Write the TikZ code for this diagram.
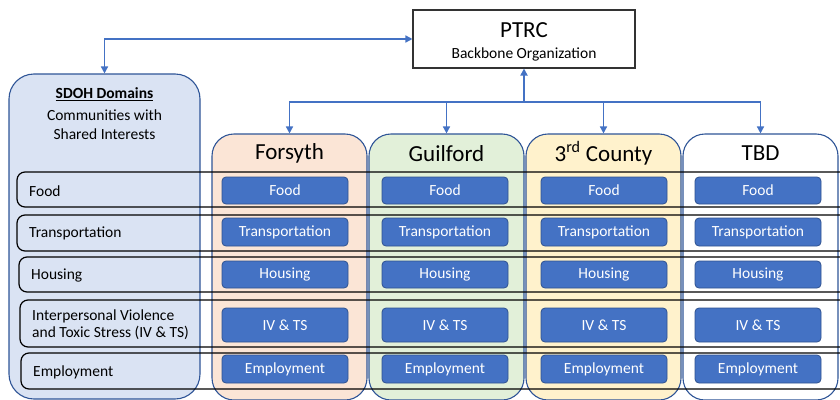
\documentclass[tikz,border=0pt]{standalone}
\usepackage{fontspec}
\setmainfont{Carlito}
\usetikzlibrary{arrows.meta}
\definecolor{sdohfill}{HTML}{DAE3F3}
\definecolor{colline}{HTML}{2F5597}
\definecolor{peach}{HTML}{FBE5D6}
\definecolor{greenfill}{HTML}{E2F0D9}
\definecolor{yellowfill}{HTML}{FFF2CC}
\definecolor{btnfill}{HTML}{4472C4}
\definecolor{btnline}{HTML}{2F528F}
\definecolor{arrowblue}{HTML}{4472C4}
\begin{document}
\begin{tikzpicture}[x=1pt,y=-1pt,
  colbox/.style={draw=colline, line width=1.1pt, rounded corners=22pt, minimum width=155pt, minimum height=266pt, inner sep=0pt},
  btn/.style={draw=btnline, fill=btnfill, rounded corners=4pt, minimum width=126pt, text=white, font=\fontsize{15.5}{18}\selectfont, inner sep=0pt, line width=0.8pt},
  rowband/.style={draw=black, line width=1.2pt, rounded corners=8pt},
  rowlabel/.style={anchor=west, font=\fontsize{15.5}{18}\selectfont, inner sep=0pt, align=left},
  coltitle/.style={font=\fontsize{23}{26}\selectfont, inner sep=0pt},
  arr/.style={draw=arrowblue, line width=1.5pt, -{Triangle[length=7pt,width=7pt]}},
  darr/.style={draw=arrowblue, line width=1.5pt, {Triangle[length=7pt,width=7pt]}-{Triangle[length=7pt,width=7pt]}}
]
\useasboundingbox (0,0) rectangle (840,399);
\clip (0,0) rectangle (840,399);
\fill[white] (0,0) rectangle (840,399);

% PTRC
\node[draw=black!80, line width=1.1pt, minimum width=222pt, minimum height=58pt, inner sep=0pt] (ptrc) at (524,39) {};
\node[font=\fontsize{23}{26}\selectfont, inner sep=0pt] (ptrct) at (524,30.5) {PTRC};
\node[font=\fontsize{15.5}{18}\selectfont, inner sep=0pt] (ptrcs) at (524,54) {Backbone Organization};

% SDOH column
\node[colbox, fill=sdohfill, minimum width=191pt, minimum height=325pt, rounded corners=25pt] (sdoh) at (104.5,236.5) {};
\node[font=\fontsize{15.5}{19}\selectfont\bfseries, inner sep=0pt] (sdoht) at (104.5,94.5) {\underline{SDOH Domains}};
\node[font=\fontsize{15.5}{19}\selectfont, inner sep=0pt, align=center] (sdohs) at (104.5,124.5) {Communities with\\Shared Interests};

% county columns
\node[colbox, fill=peach] (forsyth) at (289.5,267) {};
\node[colbox, fill=greenfill] (guilford) at (446.5,267) {};
\node[colbox, fill=yellowfill] (third) at (603.5,267) {};
\node[colbox, fill=white] (tbd) at (760.5,267) {};
\node[coltitle] (forsytht) at (289.5,153.5) {Forsyth};
\node[coltitle] (guilfordt) at (446.5,153.5) {Guilford};
\node[coltitle] (thirdt) at (603.5,153.5) {3\textsuperscript{rd} County};
\node[coltitle] (tbdt) at (760.5,153.5) {TBD};

% row bands
\draw[rowband] (17,172) rectangle (870,207);
\draw[rowband] (17,215) rectangle (870,251);
\draw[rowband] (19,257) rectangle (870,292);
\draw[rowband] (20,300) rectangle (870,347);
\draw[rowband] (21,353) rectangle (870,389);

\node[rowlabel] (lfood) at (29,191.5) {Food};
\node[rowlabel] (ltrans) at (29,233.5) {Transportation};
\node[rowlabel] (lhouse) at (31,275.5) {Housing};
\node[rowlabel, align=left] (livts) at (32,324.5) {Interpersonal Violence\\[-0.5pt]and Toxic Stress (IV \& TS)};
\node[rowlabel] (lemp) at (33,372.5) {Employment};

% buttons
\foreach \cx/\cn in {285/a,445/b,604/c,758/d}{
  \node[btn, minimum height=27pt] (\cn food) at (\cx,190.5) {Food};
  \node[btn, minimum height=28pt] (\cn trans) at (\cx,232) {Transportation};
  \node[btn, minimum height=27pt] (\cn house) at (\cx,274.5) {Housing};
  \node[btn, minimum height=34pt] (\cn ivts) at (\cx,325) {IV \& TS};
  \node[btn, minimum height=28pt] (\cn emp) at (\cx,369) {Employment};
}

% connectors
\draw[darr] (sdoh.north) |- (ptrc.west);
\coordinate (bus) at (ptrc.south |- 0,102);
\draw[arr, line width=2.3pt] (bus) -- (ptrc.south);
\draw[arr] (bus) -| (forsyth.north);
\draw[arr] (bus) -| (guilford.north);
\draw[arr] (bus) -| (third.north);
\draw[arr] (bus) -| (tbd.north);
\end{tikzpicture}
\end{document}
